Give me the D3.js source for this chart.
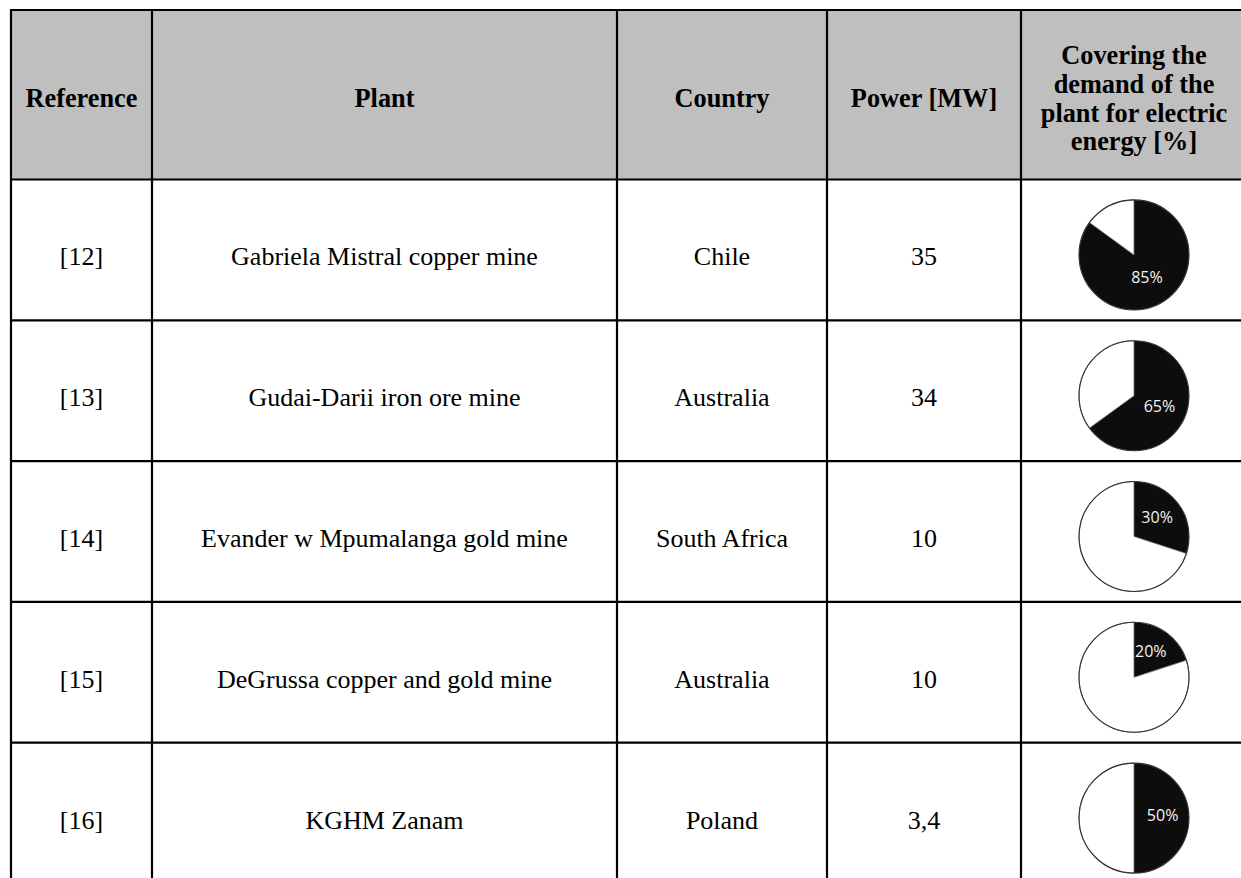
<!DOCTYPE html>
<html>
<head>
<meta charset="utf-8">
<script src="https://cdn.jsdelivr.net/npm/d3@7"></script>
<style>
  html, body { margin: 0; padding: 0; background: #ffffff; }
  svg { display: block; }
</style>
</head>
<body>
<svg id="chart" width="1241" height="878"></svg>
<script>
// ---- data ----
const headers = ["Reference", "Plant", "Country", "Power [MW]",
  "Covering the\ndemand of the\nplant for electric\nenergy [%]"];
const references = ["[12]", "[13]", "[14]", "[15]", "[16]"];
const plants = ["Gabriela Mistral copper mine", "Gudai-Darii iron ore mine",
  "Evander w Mpumalanga gold mine", "DeGrussa copper and gold mine", "KGHM Zanam"];
const countries = ["Chile", "Australia", "South Africa", "Australia", "Poland"];
const powers = ["35", "34", "10", "10", "3,4"];
const coverage = [85, 65, 30, 20, 50];

// ---- layout ----
const colWidths = [141, 465, 210, 194, 226];
const tableLeft = 11, tableTop = 10, headerBottom = 179.5, rowStep = 140.8;
const colEdges = colWidths.reduce((a, w) => { a.push(a[a.length - 1] + w); return a; }, [tableLeft]);
const colCenter = i => (colEdges[i] + colEdges[i + 1]) / 2;

const svg = d3.select("#chart");
const y = d3.scaleBand().domain(references)
  .range([headerBottom, headerBottom + rowStep * references.length]).padding(0);

const serif = "'Liberation Serif', 'Times New Roman', serif";

// header background
svg.append("rect").attr("x", tableLeft).attr("y", tableTop)
  .attr("width", 1241 - tableLeft).attr("height", headerBottom - tableTop)
  .attr("fill", "#bfbfbf");

// header text
const headerCenter = (tableTop + headerBottom) / 2;
const hLine = 28.6;
headers.forEach((h, i) => {
  const lines = h.split("\n");
  const first = headerCenter - (lines.length - 1) / 2 * hLine + 12.5;
  const t = svg.append("text").attr("text-anchor", "middle")
    .attr("font-family", serif).attr("font-weight", "bold").attr("font-size", 26.3)
    .attr("fill", "#000");
  lines.forEach((ln, k) => {
    t.append("tspan").attr("x", colCenter(i)).attr("y", first + k * hLine).text(ln);
  });
});

// body text
const rows = references.map((r, i) => ({ r, cells: [r, plants[i], countries[i], powers[i]], v: coverage[i] }));
rows.forEach(row => {
  const cy = y(row.r) + y.bandwidth() / 2;
  row.cells.forEach((c, i) => {
    svg.append("text").attr("x", colCenter(i)).attr("y", cy + 15.5)
      .attr("text-anchor", "middle").attr("font-family", serif)
      .attr("font-size", 26).attr("fill", "#000").text(c);
  });
});

// pies
const R = 55;
const pie = d3.pie().sort(null).value(d => d.value);
const arc = d3.arc().innerRadius(0).outerRadius(R);
const labelArc = d3.arc().innerRadius(R * 0.52).outerRadius(R * 0.52);
rows.forEach(row => {
  const cx = colCenter(4), cy = y(row.r) + y.bandwidth() / 2 + 5;
  const g = svg.append("g").attr("transform", `translate(${cx},${cy})`);
  const arcs = pie([{ key: "on", value: row.v }, { key: "off", value: 100 - row.v }]);
  g.selectAll("path").data(arcs).join("path")
    .attr("d", arc)
    .attr("fill", d => d.data.key === "on" ? "#0d0d0d" : "#ffffff")
    .attr("stroke", d => d.data.key === "on" ? "none" : "#666")
    .attr("stroke-width", 0.8);
  g.append("circle").attr("r", R).attr("fill", "none").attr("stroke", "#333").attr("stroke-width", 1.1);
  const c = labelArc.centroid(arcs[0]);
  g.append("text").attr("x", c[0]).attr("y", c[1] - 3)
    .attr("text-anchor", "middle").attr("dominant-baseline", "central")
    .attr("font-family", "'Open Sans', 'Noto Sans', sans-serif")
    .attr("font-size", 16).attr("fill", "#f2f2f2").text(row.v + "%");
});

// grid lines
const gridStroke = 2.2;
const bottom = headerBottom + rowStep * references.length;
const hLines = [tableTop, headerBottom, ...references.slice(1).map(r => y(r))];
svg.selectAll("line.h").data(hLines).join("line").attr("class", "h")
  .attr("x1", tableLeft - 1).attr("x2", 1241).attr("y1", d => d).attr("y2", d => d)
  .attr("stroke", "#000").attr("stroke-width", gridStroke);
svg.selectAll("line.v").data(colEdges.slice(0, 5)).join("line").attr("class", "v")
  .attr("x1", d => d).attr("x2", d => d).attr("y1", tableTop - 1).attr("y2", bottom)
  .attr("stroke", "#000").attr("stroke-width", gridStroke);
</script>
</body>
</html>
